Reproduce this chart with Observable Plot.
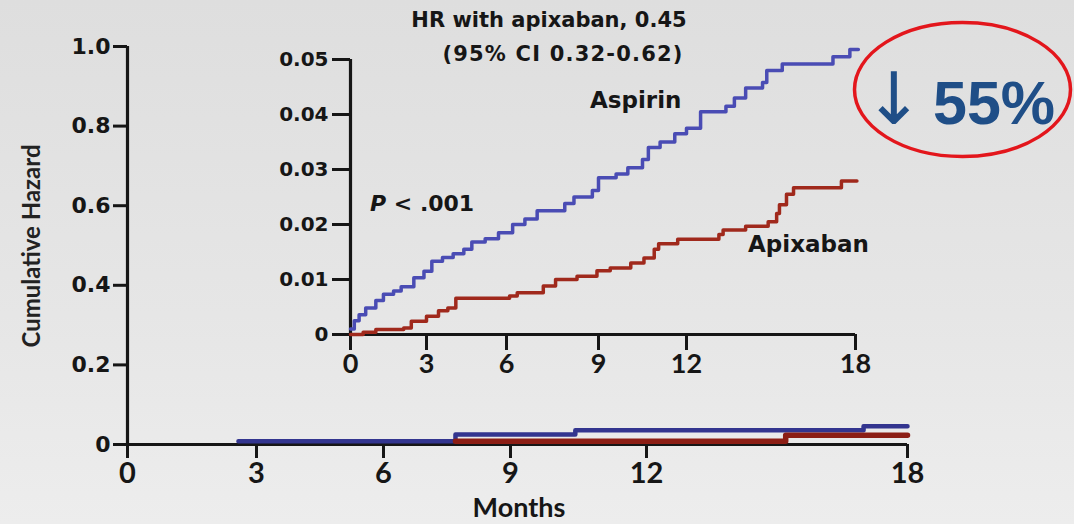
<!DOCTYPE html>
<html>
<head>
<meta charset="utf-8">
<script src="https://cdn.jsdelivr.net/npm/d3@7"></script>
<script src="https://cdn.jsdelivr.net/npm/@observablehq/plot@0.6"></script>
<style>
html, body { margin: 0; padding: 0; }
body {
  width: 1074px; height: 524px; overflow: hidden; position: relative;
  background: linear-gradient(to bottom, #dedede 0%, #e6e6e6 60%, #ededed 100%);
}
.layer { position: absolute; left: 0; top: 0; }
</style>
</head>
<body>
<div id="main" class="layer"></div>
<div id="inset" class="layer"></div>
<svg id="ann" class="layer" width="1074" height="524"></svg>
<script>
// ---- data ----
const monthTicks = [0, 3, 6, 9, 12, 18];
const mainHazardTicks = [0, 0.2, 0.4, 0.6, 0.8, 1.0];
const insetHazardTicks = [0, 0.01, 0.02, 0.03, 0.04, 0.05];

// inset (zoomed) cumulative hazard, step curves
const aspirinMonths = [0, 0.15, 0.34, 0.6, 1.0, 1.3, 1.7, 2.0, 2.5, 2.9, 3.2, 3.6, 4.0, 4.4, 4.7, 5.2, 5.7, 6.2, 6.6, 7.0, 7.9, 8.2, 8.8, 9.0, 9.6, 10.0, 10.5, 10.7, 11.1, 11.6, 12.0, 12.5, 13.4, 13.7, 14.1, 14.7, 14.85, 15.4, 17.2, 17.8, 18.1];
const aspirinHazard = [0.001, 0.0025, 0.0036, 0.0048, 0.0062, 0.0073, 0.0079, 0.0087, 0.0103, 0.0115, 0.0133, 0.0140, 0.0147, 0.0155, 0.0168, 0.0174, 0.0185, 0.0200, 0.0210, 0.0225, 0.0238, 0.0250, 0.0262, 0.0285, 0.0292, 0.0303, 0.0318, 0.0340, 0.0350, 0.0365, 0.0375, 0.0405, 0.0415, 0.0430, 0.0448, 0.0458, 0.0480, 0.0492, 0.0505, 0.0518, 0.0518];
const apixabanMonths = [0, 0.5, 1.0, 2.1, 2.4, 3.0, 3.45, 3.8, 4.1, 6.1, 6.35, 7.2, 7.6, 8.3, 8.95, 9.4, 10.1, 10.55, 10.9, 11.05, 11.7, 13.15, 13.3, 14.1, 14.9, 15.2, 15.3, 15.55, 15.8, 17.5, 18.05];
const apixabanHazard = [0, 0.0004, 0.0009, 0.0012, 0.0024, 0.0033, 0.0043, 0.0048, 0.0066, 0.0070, 0.0076, 0.0088, 0.0100, 0.0106, 0.0116, 0.0121, 0.0130, 0.0139, 0.0155, 0.0165, 0.0173, 0.0182, 0.0190, 0.0197, 0.0205, 0.0220, 0.0236, 0.0255, 0.0267, 0.0279, 0.0279];

// main (0-1 scale) curves
const mainAspirinMonths = [2.58, 7.7, 10.43, 16.99, 18];
const mainAspirinHazard = [0.008, 0.025, 0.036, 0.046, 0.046];
const mainApixabanMonths = [7.7, 15.2, 18];
const mainApixabanHazard = [0.008, 0.023, 0.023];

const toRows = (ms, hs) => ms.map((m, i) => ({month: m, hazard: hs[i]}));
const aspirin = toRows(aspirinMonths, aspirinHazard);
const apixaban = toRows(apixabanMonths, apixabanHazard);
const mainAspirin = toRows(mainAspirinMonths, mainAspirinHazard);
const mainApixaban = toRows(mainApixabanMonths, mainApixabanHazard);

const BLUE = "#4a4cb4", RED = "#a0291c", INK = "#161616";

// ---- main chart ----
const mainPlot = Plot.plot({
  width: 1074, height: 524,
  marginLeft: 127, marginRight: 167, marginTop: 46, marginBottom: 80,
  style: {background: "transparent", overflow: "visible", color: INK},
  x: {type: "linear", domain: monthTicks, range: [127, 256, 383, 510, 646, 907]},
  y: {type: "linear", domain: [0, 1], range: [444, 46]},
  marks: [
    Plot.ruleX([0], {y1: 0, y2: 1, stroke: INK, strokeWidth: 3.2}),
    Plot.ruleY([0], {x1: 0, x2: 18, stroke: INK, strokeWidth: 3.2}),
    Plot.axisY(mainHazardTicks, {
      tickFormat: d => d === 0 ? "0" : d.toFixed(1),
      tickSize: 14, tickPadding: 3, strokeWidth: 3, stroke: INK, fill: INK,
      fontFamily: "DejaVu Sans", fontWeight: "bold", fontSize: 22, label: null
    }),
    Plot.axisX(monthTicks, {
      tickFormat: d => String(d),
      tickSize: 14, tickPadding: 4, strokeWidth: 3, stroke: INK, fill: INK,
      fontFamily: "Lato", fontWeight: "bold", fontSize: 29, label: null
    }),
    Plot.line(mainAspirin, {x: "month", y: "hazard", curve: "step-after", stroke: "#33358f", strokeWidth: 4.5}),
    Plot.line(mainApixaban, {x: "month", y: "hazard", curve: "step-after", stroke: "#8c1e15", strokeWidth: 5.5})
  ]
});
document.getElementById("main").appendChild(mainPlot);

// ---- inset chart ----
const insetPlot = Plot.plot({
  width: 1074, height: 524,
  marginLeft: 350, marginRight: 219, marginTop: 59, marginBottom: 190,
  style: {background: "transparent", overflow: "visible", color: INK},
  x: {type: "linear", domain: monthTicks, range: [350, 426, 506, 598, 686, 855]},
  y: {type: "linear", domain: [0, 0.05], range: [334, 59]},
  marks: [
    Plot.ruleX([0], {y1: 0, y2: 0.05, stroke: INK, strokeWidth: 3.2}),
    Plot.ruleY([0], {x1: 0, x2: 18, stroke: INK, strokeWidth: 3.2}),
    Plot.axisY(insetHazardTicks, {
      tickFormat: d => d === 0 ? "0" : d.toFixed(2),
      tickSize: 18, tickPadding: 4, strokeWidth: 3, stroke: INK, fill: INK,
      fontFamily: "DejaVu Sans", fontWeight: "bold", fontSize: 20, label: null
    }),
    Plot.axisX(monthTicks, {
      tickFormat: d => String(d),
      tickSize: 16, tickPadding: 3, strokeWidth: 3, stroke: INK, fill: INK,
      fontFamily: "Lato", fontWeight: "bold", fontSize: 27, label: null
    }),
    Plot.line(apixaban, {x: "month", y: "hazard", curve: "step-after", stroke: RED, strokeWidth: 3.5}),
    Plot.line(aspirin, {x: "month", y: "hazard", curve: "step-after", stroke: BLUE, strokeWidth: 3.5})
  ]
});
document.getElementById("inset").appendChild(insetPlot);

// ---- annotations ----
const ann = d3.select("#ann");
function txt(x, y, s, o) {
  const t = ann.append("text").attr("x", x).attr("y", y).text(s)
    .attr("font-family", o.family || "DejaVu Sans")
    .attr("font-weight", o.weight || "bold")
    .attr("font-size", o.size)
    .attr("fill", o.fill || INK)
    .attr("text-anchor", o.anchor || "start");
  if (o.spacing) t.attr("letter-spacing", o.spacing);
  if (o.transform) t.attr("transform", o.transform);
  return t;
}
txt(549, 27, "HR with apixaban, 0.45", {size: 21, anchor: "middle"});
txt(563, 61, "(95% CI 0.32-0.62)", {size: 21, anchor: "middle", spacing: 1.2});
txt(590, 108, "Aspirin", {size: 23});
txt(748, 252, "Apixaban", {size: 23});
const p = ann.append("text").attr("x", 370).attr("y", 211)
  .attr("font-family", "DejaVu Sans").attr("font-weight", "bold").attr("font-size", 22).attr("fill", INK);
p.append("tspan").attr("font-style", "italic").text("P");
p.append("tspan").text(" < .001");
txt(519, 517, "Months", {family: "Lato", size: 27, anchor: "middle"});
txt(0, 0, "Cumulative Hazard", {family: "Lato", weight: "bold", size: 24, anchor: "middle", fill: "#222", transform: "translate(40,246) rotate(-90)"});

ann.append("ellipse").attr("cx", 962.5).attr("cy", 89.5).attr("rx", 108).attr("ry", 67)
  .attr("fill", "none").attr("stroke", "#e3161c").attr("stroke-width", 3.5);
txt(894, 124, "↓", {family: "DejaVu Sans", weight: "normal", size: 72, fill: "#1f4e87", anchor: "middle"});
txt(933, 124, "55%", {family: "Liberation Sans", size: 61, fill: "#1f4e87"});
</script>
</body>
</html>
